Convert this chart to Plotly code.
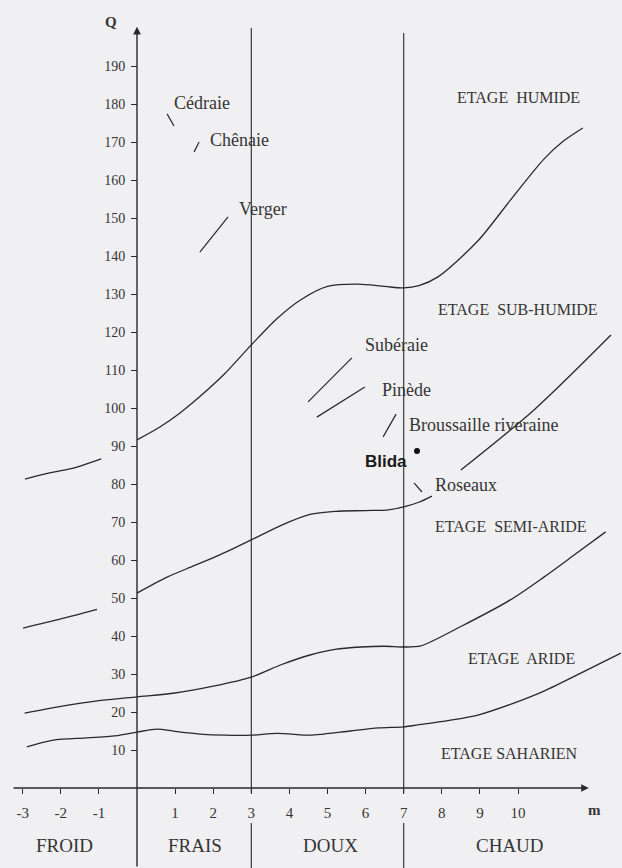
import plotly.graph_objects as go

# ---------------- data ----------------
# Boundary curves (m = mean min temperature of coldest month, Q = Emberger quotient)
c1_left_m = [-2.94, -2.3, -1.6, -0.94]
c1_left_q = [81.3, 82.9, 84.4, 86.6]
c1_m = [0, 0.6, 1.13, 1.65, 2.3, 3, 3.67, 4.3, 5.0, 5.8, 6.5, 7.0, 7.4, 7.9, 8.95, 9.8, 10.68, 11.2, 11.7]
c1_q = [91.6, 95.0, 98.7, 103, 109, 116.6, 123.5, 128.5, 132.0, 132.6, 132.0, 131.6, 132.2, 134.5, 144, 154.7, 165.5, 170.3, 173.7]

c2_left_m = [-2.99, -2.0, -1.05]
c2_left_q = [42.1, 44.5, 47.0]
c2_m = [0, 0.79, 1.5, 2.2, 3, 3.8, 4.54, 5.2, 6.0, 6.6, 7.0, 7.4, 7.74]
c2_q = [51.3, 55.5, 58.5, 61.5, 65.3, 69.2, 72.0, 72.8, 73.0, 73.2, 74.0, 75.2, 76.8]
c2_right_m = [8.5, 10.42, 12.44]
c2_right_q = [83.7, 99.5, 119.2]

c3_m = [-2.95, -2, -1, 0, 1, 2, 3, 3.8, 4.54, 5.2, 5.88, 6.5, 7, 7.45, 8.5, 9.8, 10.68, 11.5, 12.3]
c3_q = [19.7, 21.5, 23, 24, 25, 26.8, 29.2, 32.5, 35, 36.5, 37.1, 37.3, 37.1, 37.4, 42.5, 49.5, 55.5, 61.5, 67.4]

c4_m = [-2.89, -2.2, -1.3, -0.5, 0, 0.52, 1, 1.65, 2.3, 3, 3.67, 4.54, 4.9, 5.6, 6.33, 7, 7.37, 8.2, 8.95, 9.8, 10.68, 11.7, 12.7]
c4_q = [10.8, 12.6, 13.2, 13.8, 14.7, 15.5, 14.9, 14.2, 13.9, 13.9, 14.4, 13.9, 14.2, 15.0, 15.8, 16.1, 16.6, 17.8, 19.2, 22.0, 25.5, 30.5, 35.5]

# Vegetation pointer strokes (start, end)
veg_names = ["Cédraie", "Chênaie", "Verger", "Subéraie", "Pinède", "Broussaille riveraine", "Roseaux"]
veg_stroke_m = [[0.79, 0.97], [1.5, 1.63], [1.65, 2.39], [4.49, 5.64], [4.72, 5.98], [6.46, 6.8], [7.27, 7.48]]
veg_stroke_q = [[177.4, 174.2], [167.4, 170.0], [141.0, 150.3], [101.6, 113.2], [97.6, 105.5], [92.4, 98.4], [80.3, 77.9]]
veg_label_m = [0.92, 1.86, 2.62, 5.93, 6.38, 7.09, 7.77]
veg_label_q = [180.3, 170.5, 152.4, 116.6, 104.7, 95.5, 79.7]

station_name = "Blida"
station_m = 7.35
station_q = 88.7

# Bioclimatic stage labels
stage_names = ["ETAGE  HUMIDE", "ETAGE  SUB-HUMIDE", "ETAGE  SEMI-ARIDE", "ETAGE  ARIDE", "ETAGE SAHARIEN"]
stage_m = [10.01, 9.99, 9.82, 10.09, 9.76]
stage_q = [181.8, 126.0, 68.7, 34.2, 9.2]

# Winter variants
winter_names = ["FROID", "FRAIS", "DOUX", "CHAUD"]
winter_m = [-1.89, 1.52, 5.09, 9.79]
winter_limits = [3, 7]

x_ticks = [-3, -2, -1, 1, 2, 3, 4, 5, 6, 7, 8, 9, 10]
y_ticks = list(range(10, 200, 10))

# ---------------- figure ----------------
W, H = 622, 868
X_RANGE = [-3.5958, 12.7297]
Y_RANGE = [-21.053, 207.368]
INK = "#2a2a2a"
TXT = "#353535"
BG = "#f0eff1"
SERIF = "Liberation Serif"

fig = go.Figure()

def line(xs, ys, width=1.3, color=INK, shape="spline"):
    fig.add_trace(go.Scatter(x=xs, y=ys, mode="lines",
                             line=dict(color=color, width=width, shape=shape, smoothing=0.8),
                             hoverinfo="skip", showlegend=False))

for xs, ys in [(c1_left_m, c1_left_q), (c1_m, c1_q), (c2_left_m, c2_left_q), (c2_m, c2_q),
               (c2_right_m, c2_right_q), (c3_m, c3_q), (c4_m, c4_q)]:
    line(xs, ys)

for xs, ys in zip(veg_stroke_m, veg_stroke_q):
    line(xs, ys, width=1.2, shape="linear")

# winter limit verticals (gap around the tick labels)
tops = {3: 200.0, 7: 198.7}
for xv in winter_limits:
    line([xv, xv, None, xv, xv], [tops[xv], -1.3, None, -9.2, Y_RANGE[0]], width=1.1, shape="linear")

# station
fig.add_trace(go.Scatter(x=[station_m], y=[station_q], mode="markers",
                         marker=dict(color="#111", size=6), hoverinfo="skip", showlegend=False))

ann = []
# axes with arrows
ann.append(dict(x=0, y=200.3, ax=0, ay=Y_RANGE[0], xref="x", yref="y", axref="x", ayref="y",
                showarrow=True, arrowhead=2, arrowsize=1.1, arrowwidth=1.4, arrowcolor=INK, text=""))
ann.append(dict(x=11.86, y=0, ax=-3.28, ay=0, xref="x", yref="y", axref="x", ayref="y",
                showarrow=True, arrowhead=2, arrowsize=1.1, arrowwidth=1.4, arrowcolor=INK, text=""))

for name, mx, qy in zip(veg_names, veg_label_m, veg_label_q):
    ann.append(dict(x=mx, y=qy, text=name, showarrow=False, xanchor="left", yanchor="middle",
                    font=dict(family=SERIF, size=18, color=TXT)))
ann.append(dict(x=7.14, y=85.8, text=station_name, showarrow=False, xanchor="right", yanchor="middle",
                font=dict(family="Liberation Sans", size=17, color="#1a1a1a", weight="bold")))

for name, mx, qy in zip(stage_names, stage_m, stage_q):
    ann.append(dict(x=mx, y=qy, text=name, showarrow=False, xanchor="center", yanchor="middle",
                    font=dict(family=SERIF, size=16, color=TXT)))

for name, mx in zip(winter_names, winter_m):
    ann.append(dict(x=mx, y=-15.0, text=name, showarrow=False, xanchor="center", yanchor="middle",
                    font=dict(family=SERIF, size=19, color=TXT)))

ann.append(dict(x=-0.68, y=201.5, text="<b>Q</b>", showarrow=False, xanchor="center", yanchor="middle",
                font=dict(family=SERIF, size=15, color=TXT)))
ann.append(dict(x=12.02, y=-5.8, text="<b>m</b>", showarrow=False, xanchor="center", yanchor="middle",
                font=dict(family=SERIF, size=15, color=TXT)))

fig.update_layout(
    width=W, height=H, margin=dict(l=0, r=0, t=0, b=0),
    paper_bgcolor=BG, plot_bgcolor=BG, showlegend=False,
    annotations=ann,
    xaxis=dict(range=X_RANGE, showgrid=False, zeroline=False, showline=False,
               anchor="free", position=1 - 788 / H,
               tickmode="array", tickvals=x_ticks, ticktext=[str(t) for t in x_ticks],
               ticks="outside", ticklen=5, tickwidth=1, tickcolor=INK,
               ticklabelstandoff=6,
               tickfont=dict(family=SERIF, size=15, color=TXT), fixedrange=True),
    yaxis=dict(range=Y_RANGE, showgrid=False, zeroline=False, showline=False,
               anchor="free", position=137 / W,
               tickmode="array", tickvals=y_ticks, ticktext=[str(t) for t in y_ticks],
               ticks="outside", ticklen=6, tickwidth=1, tickcolor=INK,
               ticklabelstandoff=3,
               tickfont=dict(family=SERIF, size=14, color=TXT), fixedrange=True),
)

fig.write_html("out.html", config={"displayModeBar": False},
               post_script="document.body.style.margin='0';document.body.style.overflow='hidden';"
                           "document.body.style.background='" + BG + "';")
